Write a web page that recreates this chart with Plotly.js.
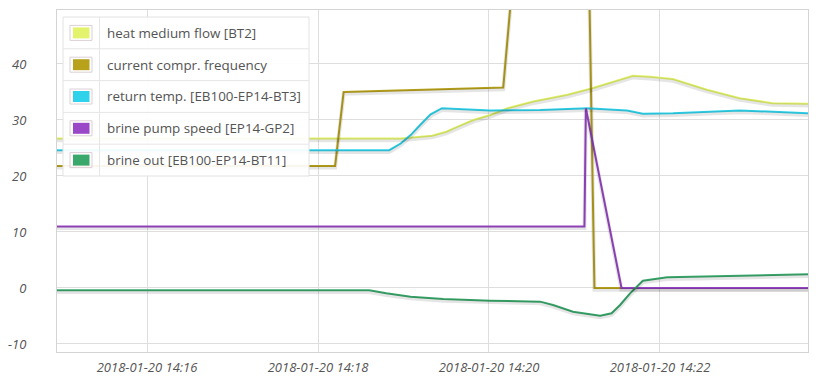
<!DOCTYPE html>
<html><head><meta charset="utf-8">
<script src="https://cdn.plot.ly/plotly-3.0.1.min.js"></script>
<style>html,body{margin:0;padding:0;background:#fff}#chart{width:816px;height:378px}</style>
</head><body><div id="chart"></div>
<script>
// ---- data ----
const seriesNames = [
  "heat medium flow [BT2]",
  "current compr. frequency",
  "return temp. [EB100-EP14-BT3]",
  "brine pump speed [EP14-GP2]",
  "brine out [EB100-EP14-BT11]"
];
const seriesColors = ["#e3f36c", "#b8a21c", "#2ed2ea", "#9a47c8", "#3aa76b"];

const hmfTime = ["14:14:55","14:18:58","14:19:20","14:19:30","14:19:38","14:19:49","14:20:01","14:20:13","14:20:31","14:20:55","14:21:13","14:21:32","14:21:41","14:21:53","14:22:09","14:22:33","14:22:56","14:23:19","14:23:45"];
const hmfVal  = [26.7,26.7,27.2,27.9,28.8,30.0,30.9,32.1,33.3,34.5,35.7,37.1,37.9,37.7,37.3,35.4,33.9,33.0,32.9];

const cfTime = ["14:14:55","14:18:12","14:18:18","14:20:10","14:20:18","14:21:10","14:21:14","14:23:45"];
const cfVal  = [21.8,21.8,35.0,35.8,59,59,0,0];

const rtTime = ["14:14:55","14:18:50","14:18:58","14:19:05","14:19:12","14:19:19","14:19:27","14:20:01","14:20:36","14:21:09","14:21:37","14:21:48","14:22:09","14:22:56","14:23:45"];
const rtVal  = [24.6,24.6,25.8,27.3,29.2,31.0,32.1,31.7,31.8,32.1,31.7,31.1,31.2,31.7,31.2];

const bpTime = ["14:14:55","14:21:07","14:21:08","14:21:33","14:23:45"];
const bpVal  = [11,11,32.1,0,0];

const boTime = ["14:14:55","14:18:36","14:18:48","14:19:05","14:19:28","14:20:01","14:20:36","14:20:45","14:20:59","14:21:18","14:21:26","14:21:32","14:21:39","14:21:48","14:22:05","14:22:28","14:23:45"];
const boVal  = [-0.4,-0.4,-0.95,-1.55,-1.96,-2.26,-2.44,-3.04,-4.23,-4.94,-4.52,-3.04,-0.95,1.3,1.9,2.0,2.45];

const datePrefix = "2018-01-20 ";
const xTickVals = ["14:16","14:18","14:20","14:22"];
const yTickVals = [-10,0,10,20,30,40];
const xRange = ["14:14:56.8","14:23:43.9"];
const yRange = [-11.43, 49.64];

// ---- build ----
const allTimes = [hmfTime, cfTime, rtTime, bpTime, boTime];
const allVals = [hmfVal, cfVal, rtVal, bpVal, boVal];
const toDate = t => datePrefix + t;

const traces = [];
// shadows
allTimes.forEach((t, i) => {
  traces.push({
    x: t.map(toDate), y: allVals[i], type: "scatter", mode: "lines",
    yaxis: "y2", hoverinfo: "skip", showlegend: false,
    line: {color: "rgba(0,0,0,0.10)", width: 4}
  });
});
allTimes.forEach((t, i) => {
  traces.push({
    x: t.map(toDate), y: allVals[i], type: "scatter", mode: "lines",
    name: seriesNames[i], showlegend: false,
    line: {color: seriesColors[i], width: 2}
  });
});

// pixel -> paper helpers for the legend table
const L = 57, R = 808, T = 10, B = 352;
const px = x => (x - L) / (R - L);
const py = y => (B - y) / (B - T);

const shapes = [];
const annotations = [];
const lgL = 63, lgR = 309, lgT = 17, rowH = 31.8, divX = 99.5;
const lgB = lgT + rowH * seriesNames.length;
shapes.push({type: "rect", xref: "paper", yref: "paper", layer: "above",
  x0: px(lgL), x1: px(lgR), y0: py(lgB), y1: py(lgT),
  fillcolor: "rgba(255,255,255,0.92)", line: {color: "#e2e2e2", width: 1}});
shapes.push({type: "line", xref: "paper", yref: "paper", layer: "above",
  x0: px(divX), x1: px(divX), y0: py(lgB), y1: py(lgT), line: {color: "#e6e6e6", width: 1}});
seriesNames.forEach((n, i) => {
  const top = lgT + rowH * i, cy = top + rowH / 2;
  if (i > 0) shapes.push({type: "line", xref: "paper", yref: "paper", layer: "above",
    x0: px(lgL), x1: px(lgR), y0: py(top), y1: py(top), line: {color: "#e6e6e6", width: 1}});
  shapes.push({type: "rect", xref: "paper", yref: "paper", layer: "above",
    x0: px(70), x1: px(92), y0: py(cy + 7.5), y1: py(cy - 7.5),
    fillcolor: "rgba(0,0,0,0)", line: {color: "#dccfd6", width: 1}});
  shapes.push({type: "rect", xref: "paper", yref: "paper", layer: "above",
    x0: px(73), x1: px(89.5), y0: py(cy + 5.5), y1: py(cy - 5.5),
    fillcolor: seriesColors[i], line: {width: 0}});
  annotations.push({xref: "paper", yref: "paper", x: px(105), y: py(cy), xanchor: "left", yanchor: "middle",
    text: n, showarrow: false, font: {family: "Open Sans", size: 13.4, color: "#545454"}});
});

const tickFont = {family: "Open Sans", size: 13, color: "#555555", style: "italic"};
const layout = {
  width: 816, height: 378,
  margin: {l: L, r: 816 - R, t: T, b: 378 - B},
  paper_bgcolor: "#fff", plot_bgcolor: "#fff",
  showlegend: false,
  xaxis: {type: "date", range: xRange.map(toDate), tickvals: xTickVals.map(toDate),
    ticktext: xTickVals.map(toDate), tickfont: tickFont, showgrid: true, gridcolor: "#dedede",
    zeroline: false, showline: true, mirror: true, linecolor: "#d4d4d4",
    ticks: "outside", ticklen: 3, tickcolor: "rgba(0,0,0,0)", fixedrange: true},
  yaxis: {range: yRange, tickvals: yTickVals, ticktext: yTickVals.map(String), tickfont: tickFont,
    showgrid: true, gridcolor: "#dedede", zeroline: false, showline: true, mirror: true,
    linecolor: "#d4d4d4", ticks: "outside", ticklen: 27, tickcolor: "rgba(0,0,0,0)", fixedrange: true},
  yaxis2: {overlaying: "y", range: [yRange[0] + 0.3, yRange[1] + 0.3], visible: false, fixedrange: true},
  shapes: shapes, annotations: annotations
};
Plotly.newPlot("chart", traces, layout, {staticPlot: true, displayModeBar: false});
</script>
</body></html>
